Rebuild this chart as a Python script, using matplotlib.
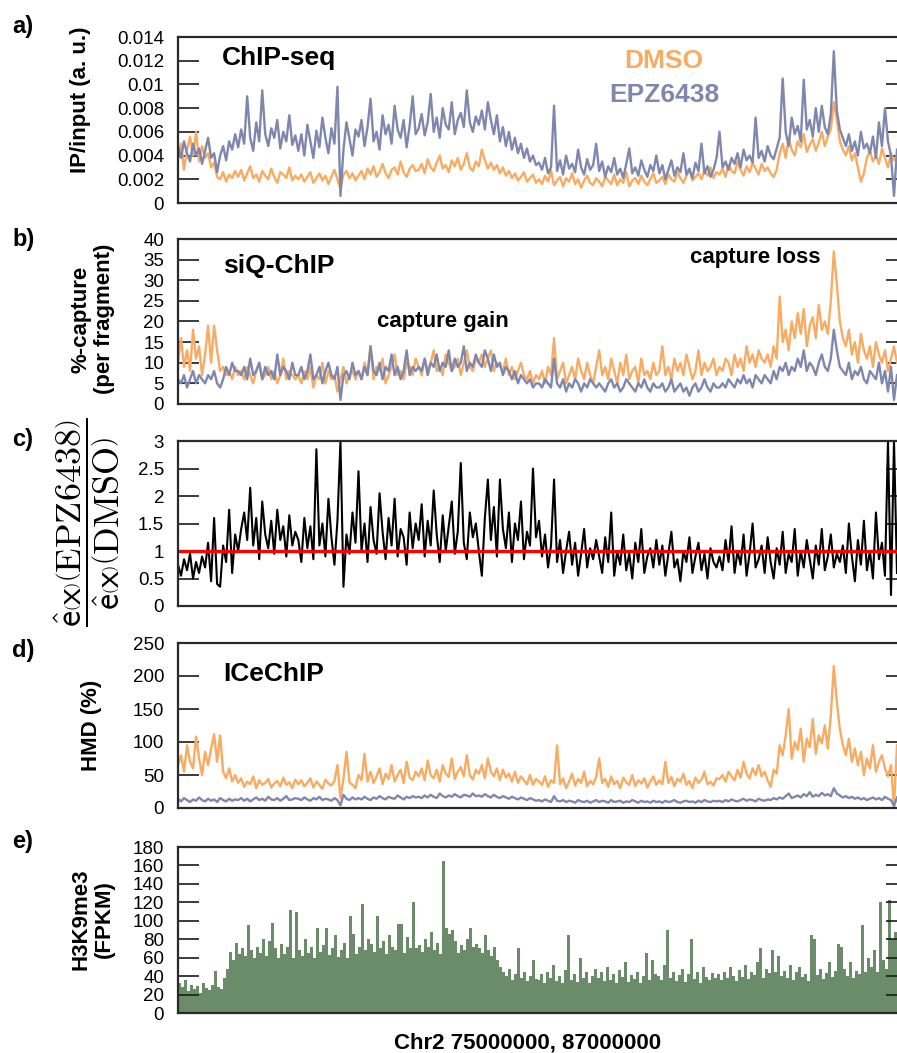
import numpy as np
import matplotlib
matplotlib.use("Agg")
import matplotlib.pyplot as plt

plt.rcParams['font.family'] = ['Liberation Sans', 'DejaVu Sans']
plt.rcParams['mathtext.fontset'] = 'cm'

# ---------------- data ----------------
# a) ChIP-seq IP/input, values in units of 1e-4
chip_dmso = [38, 50, 28, 45, 56, 40, 60, 35, 48, 38, 42, 30, 34, 22, 20, 26, 18, 24, 21, 27,
             22, 28, 19, 25, 31, 21, 24, 18, 27, 23, 20, 29, 22, 17, 26, 24, 21, 30, 19, 23,
             20, 24, 18, 22, 26, 17, 21, 25, 19, 23, 16, 22, 28, 20, 12, 24, 27, 21, 25, 19,
             23, 27, 20, 29, 24, 31, 22, 26, 33, 25, 21, 28, 30, 24, 35, 26, 22, 29, 32, 27,
             28, 33, 25, 37, 30, 27, 34, 40, 29, 32, 26, 36, 31, 38, 28, 33, 42, 30, 27, 35,
             31, 45, 36, 29, 34, 28, 32, 25, 30, 23, 27, 21, 25, 19, 22, 26, 18, 21, 24, 17,
             20, 16, 23, 18, 27, 15, 19, 22, 14, 21, 18, 25, 16, 20, 13, 19, 23, 17, 15, 21,
             18, 14, 22, 19, 16, 24, 15, 20, 17, 26, 14, 19, 21, 16, 23, 18, 15, 20, 25, 17,
             19, 22, 16, 24, 20, 18, 26, 21, 17, 23, 28, 19, 22, 25, 20, 27, 23, 30, 21, 26,
             24, 29, 22, 32, 27, 25, 35, 28, 23, 31, 26, 34, 29, 24, 33, 27, 30, 25, 22, 28,
             42, 50, 38, 55, 45, 40, 52, 47, 58, 43, 49, 54, 44, 51, 60, 48, 56, 62, 85, 70,
             52, 45, 40, 48, 36, 42, 30, 18, 25, 38, 44, 35, 40, 33, 46, 38, 30, 42, 36, 40]
chip_epz = [48, 38, 52, 42, 35, 50, 40, 46, 33, 44, 55, 38, 42, 26, 40, 48, 36, 52, 45, 58,
            47, 62, 50, 90, 55, 44, 68, 52, 95, 58, 48, 63, 55, 70, 46, 60, 52, 74, 49, 57,
            44, 58, 40, 66, 52, 38, 61, 47, 72, 55, 42, 63, 50, 98, 6, 45, 68, 54, 40, 62,
            56, 70, 48, 64, 88, 52, 60, 45, 74, 58, 66, 50, 82, 62, 55, 70, 47, 65, 90, 58,
            63, 75, 57, 68, 92, 60, 72, 55, 80, 66, 62, 85, 58, 70, 76, 64, 95, 68, 60, 73,
            66, 78, 62, 85, 70, 58, 74, 52, 64, 48, 60, 45, 55, 42, 50, 38, 46, 35, 40, 32,
            34, 28, 38, 25, 30, 82, 27, 36, 24, 40, 29, 33, 26, 45, 30, 24, 37, 28, 32, 50,
            27, 35, 22, 31, 26, 38, 24, 29, 21, 33, 46, 25, 30, 23, 36, 28, 22, 32, 27, 40,
            25, 32, 20, 28, 36, 23, 30, 26, 42, 24, 29, 21, 34, 27, 50, 25, 31, 22, 28, 38,
            60, 30, 35, 28, 38, 33, 42, 30, 45, 36, 40, 34, 72, 38, 44, 35, 48, 40, 37, 46,
            55, 105, 60, 48, 72, 58, 65, 52, 104, 62, 70, 56, 80, 60, 82, 64, 58, 75, 128, 78,
            62, 55, 48, 58, 44, 52, 40, 60, 46, 50, 42, 56, 38, 68, 48, 80, 52, 40, 6, 45]

# b) siQ-ChIP %-capture
siq_dmso = [10, 16, 9, 13, 8, 18, 11, 14, 7, 12, 19, 10, 19, 13, 8, 9, 7, 8, 6, 9,
            7, 8, 6, 9, 7, 5, 8, 10, 6, 7, 9, 6, 8, 5, 7, 11, 6, 8, 7, 6,
            7, 5, 8, 6, 9, 4, 7, 6, 10, 5, 8, 6, 7, 3, 6, 9, 5, 7, 8, 6,
            8, 6, 10, 7, 14, 6, 9, 8, 11, 5, 7, 9, 12, 7, 8, 6, 10, 9, 7, 11,
            9, 7, 11, 8, 10, 13, 8, 9, 7, 12, 10, 8, 9, 11, 7, 10, 13, 9, 8, 11,
            10, 12, 9, 11, 13, 8, 10, 9, 8, 11, 7, 9, 6, 8, 10, 7, 6, 8, 5, 7,
            6, 8, 5, 9, 7, 16, 6, 8, 10, 5, 7, 9, 6, 11, 8, 6, 10, 7, 5, 9,
            13, 7, 9, 6, 11, 8, 5, 10, 7, 12, 6, 8, 9, 5, 11, 7, 8, 6, 10, 7,
            8, 14, 7, 9, 6, 11, 8, 10, 7, 12, 9, 6, 8, 13, 7, 10, 8, 9, 11, 7,
            9, 8, 11, 10, 7, 12, 9, 11, 8, 14, 10, 12, 9, 13, 11, 10, 12, 9, 14, 11,
            26, 15, 18, 13, 20, 16, 22, 17, 23, 14, 19, 21, 16, 24, 18, 20, 17, 25, 37, 29,
            20, 16, 14, 18, 12, 15, 10, 17, 13, 11, 14, 9, 15, 12, 10, 13, 8, 11, 14, 10]
siq_epz = [6, 5, 7, 4, 6, 8, 5, 7, 6, 5, 7, 6, 8, 5, 4, 6, 9, 7, 10, 8,
           8, 7, 9, 6, 11, 7, 8, 10, 6, 9, 7, 8, 6, 12, 7, 9, 8, 6, 10, 7,
           7, 9, 6, 8, 12, 6, 7, 9, 5, 8, 10, 7, 6, 9, 1, 7, 8, 6, 10, 7,
           8, 6, 9, 7, 14, 8, 7, 10, 6, 9, 8, 12, 7, 9, 6, 8, 13, 7, 9, 8,
           9, 8, 11, 7, 10, 9, 12, 8, 10, 9, 13, 8, 11, 9, 10, 14, 8, 10, 9, 12,
           10, 9, 13, 11, 8, 12, 9, 10, 7, 9, 8, 6, 8, 5, 7, 6, 5, 6, 4, 5,
           5, 4, 6, 5, 4, 11, 5, 4, 6, 3, 5, 4, 6, 5, 3, 5, 4, 6, 5, 4,
           5, 4, 3, 5, 6, 4, 5, 3, 4, 6, 5, 4, 3, 5, 4, 6, 4, 3, 5, 4,
           4, 5, 3, 4, 6, 3, 4, 5, 3, 4, 2, 4, 5, 3, 4, 6, 4, 3, 5, 4,
           4, 5, 4, 6, 5, 4, 6, 5, 7, 5, 6, 4, 7, 6, 5, 7, 6, 5, 8, 6,
           9, 8, 10, 7, 9, 8, 11, 9, 13, 8, 10, 9, 7, 10, 12, 9, 8, 11, 18, 13,
           9, 8, 7, 10, 6, 8, 7, 9, 6, 5, 8, 7, 6, 10, 5, 8, 3, 9, 1, 7]

# c) ratio e(x)(EPZ6438) / e(x)(DMSO)
ratio = [0.75, 0.55, 0.85, 0.65, 0.95, 0.5, 0.8, 0.6, 0.9, 0.7, 1.15, 0.45, 1.6, 0.4, 0.35, 1.1, 0.8, 1.75, 0.6, 1.3,
         1.0, 1.4, 1.7, 1.2, 2.15, 1.1, 1.6, 0.85, 1.9, 1.3, 1.05, 1.55, 0.95, 1.75, 1.2, 1.45, 0.9, 1.65, 1.1, 1.35,
         1.2, 0.8, 1.6, 1.05, 1.45, 0.85, 2.85, 1.1, 1.5, 0.9, 1.95, 1.25, 0.75, 1.55, 3.0, 0.35, 1.3, 0.95, 1.7, 1.15,
         2.45, 1.0, 1.5, 0.8, 1.8, 1.2, 0.95, 2.05, 1.35, 0.85, 1.6, 1.1, 1.95, 0.9, 1.4, 1.25, 0.75, 1.7, 1.05, 1.5,
         1.2, 1.85, 0.9, 1.55, 1.1, 2.1, 1.3, 0.8, 1.65, 1.0, 1.45, 1.9, 0.95, 1.35, 2.6, 1.15, 0.85, 1.7, 1.25, 1.5,
         1.0, 0.55, 1.6, 2.3, 1.2, 1.8, 0.9, 2.3, 1.4, 1.05, 1.7, 0.8, 1.5, 1.2, 1.9, 0.85, 1.35, 1.1, 2.5, 1.25,
         1.55, 0.9, 1.3, 0.7, 1.1, 2.3, 0.8, 1.2, 0.6, 1.0, 1.35, 0.75, 1.15, 0.55, 0.95, 1.4, 0.7, 1.05, 0.85, 1.2,
         0.9, 0.6, 1.25, 0.8, 1.7, 0.55, 1.0, 0.75, 1.3, 0.65, 0.95, 0.5, 1.15, 0.8, 1.4, 0.6, 0.9, 1.05, 0.7, 1.2,
         0.75, 1.1, 0.55, 0.95, 1.35, 0.7, 0.85, 0.45, 1.0, 0.8, 1.25, 0.6, 0.9, 1.15, 0.65, 0.95, 0.5, 1.05, 0.8, 0.7,
         0.9, 0.65, 1.2, 0.8, 1.45, 0.6, 1.0, 0.75, 1.3, 0.55, 0.95, 1.5, 0.7, 0.85, 1.1, 0.6, 1.25, 0.8, 0.5, 1.05,
         0.75, 1.35, 0.6, 0.95, 0.8, 1.4, 0.55, 1.0, 0.7, 1.2, 0.85, 0.5, 1.1, 0.75, 1.4, 0.65, 0.9, 1.3, 0.7, 0.95,
         0.8, 1.1, 0.6, 1.5, 0.9, 0.45, 1.2, 0.75, 1.55, 0.65, 1.0, 0.5, 1.7, 0.85, 1.15, 0.55, 3.0, 0.2, 3.0, 0.6]

# d) ICeChIP HMD (%)
hmd_dmso = [65, 80, 55, 95, 70, 60, 108, 75, 50, 85, 65, 90, 112, 70, 110, 55, 45, 60, 40, 50,
            38, 45, 32, 40, 36, 48, 30, 42, 35, 38, 44, 31, 37, 41, 33, 46, 35, 39, 30, 43,
            36, 42, 33, 38, 45, 31, 40, 35, 29, 43, 37, 34, 41, 65, 15, 44, 85, 39, 35, 30,
            50, 42, 82, 40, 55, 38, 48, 60, 36, 52, 44, 65, 40, 50, 58, 38, 70, 46, 42, 55,
            48, 60, 42, 72, 50, 45, 58, 40, 65, 52, 47, 75, 44, 55, 62, 48, 80, 50, 43, 58,
            52, 65, 45, 75, 55, 48, 60, 42, 58, 46, 52, 40, 55, 38, 48, 42, 36, 50, 35, 44,
            40, 35, 48, 32, 42, 38, 95, 36, 45, 30, 40, 52, 34, 44, 38, 55, 33, 41, 36, 47,
            75, 38, 44, 32, 48, 36, 41, 30, 46, 39, 35, 50, 33, 42, 37, 45, 31, 40, 48, 35,
            42, 36, 70, 38, 47, 33, 44, 40, 52, 35, 41, 30, 46, 38, 43, 55, 36, 40, 34, 45,
            44, 50, 40, 55, 48, 42, 58, 46, 70, 52, 45, 60, 50, 65, 48, 55, 42, 32, 58, 52,
            95, 80, 110, 150, 75, 100, 88, 120, 70, 105, 92, 135, 82, 110, 98, 125, 90, 140, 215, 160,
            120, 95, 80, 105, 70, 90, 65, 85, 50, 75, 60, 95, 55, 70, 80, 60, 48, 65, 2, 95]
hmd_epz = [14, 10, 15, 12, 9, 13, 11, 16, 12, 10, 14, 11, 13, 9, 15, 12, 10, 14, 11, 13,
           12, 15, 11, 14, 10, 13, 16, 12, 14, 11, 17, 13, 12, 15, 11, 14, 18, 12, 13, 15,
           14, 12, 16, 13, 11, 15, 13, 17, 12, 14, 13, 11, 15, 12, 4, 20, 14, 12, 16, 13,
           15, 13, 17, 14, 12, 16, 14, 18, 15, 13, 17, 15, 14, 19, 16, 13, 17, 15, 18, 16,
           17, 15, 19, 16, 20, 17, 15, 22, 18, 16, 19, 17, 21, 18, 16, 20, 19, 17, 22, 18,
           19, 17, 21, 18, 16, 20, 17, 15, 18, 16, 14, 17, 15, 13, 16, 14, 12, 15, 13, 11,
           12, 10, 13, 11, 9, 18, 11, 10, 12, 9, 11, 10, 8, 12, 10, 9, 11, 8, 10, 12,
           9, 11, 10, 8, 12, 9, 10, 11, 8, 10, 9, 12, 10, 8, 11, 9, 10, 8, 11, 9,
           10, 8, 11, 9, 10, 12, 9, 8, 10, 11, 9, 10, 8, 11, 9, 12, 10, 9, 11, 10,
           11, 9, 12, 10, 13, 11, 10, 12, 14, 11, 13, 12, 10, 14, 12, 11, 13, 12, 15, 13,
           16, 14, 18, 22, 15, 17, 19, 16, 21, 18, 24, 17, 20, 18, 23, 19, 21, 18, 30, 22,
           19, 16, 18, 15, 17, 14, 16, 13, 15, 12, 14, 16, 13, 15, 12, 17, 14, 12, 3, 16]

# e) H3K9me3 (FPKM)
h3k9 = [33, 28, 36, 24, 30, 26, 29, 22, 32, 27, 25, 30, 46, 28, 26, 38, 48, 66, 58, 76,
        64, 70, 62, 95, 68, 60, 72, 65, 80, 62, 78, 98, 70, 60, 75, 64, 72, 112, 60, 110,
        68, 62, 80, 65, 72, 60, 92, 66, 74, 92, 63, 70, 85, 61, 68, 76, 60, 105, 86, 64,
        72, 118, 68, 80, 75, 66, 105, 70, 78, 64, 85, 72, 68, 96, 97, 65, 82, 70, 120, 70,
        74, 66, 80, 72, 88, 68, 76, 64, 165, 92, 86, 90, 78, 65, 74, 68, 80, 92, 72, 75,
        70, 65, 85, 68, 62, 72, 58, 50, 45, 40, 48, 36, 42, 70, 38, 44, 35, 40, 58, 37,
        36, 42, 33, 45, 38, 52, 35, 40, 32, 47, 85, 36, 42, 34, 60, 38, 45, 33, 40, 48,
        38, 44, 35, 50, 36, 42, 33, 47, 39, 55, 34, 41, 37, 45, 32, 40, 65, 36, 58, 42,
        40, 36, 52, 90, 38, 44, 35, 41, 48, 34, 42, 80, 37, 45, 33, 50, 39, 36, 43, 38,
        42, 36, 45, 38, 50, 40, 35, 47, 39, 52, 37, 44, 41, 55, 70, 38, 48, 43, 68, 45,
        62, 40, 46, 38, 52, 36, 44, 50, 39, 42, 35, 85, 80, 41, 48, 37, 43, 55, 39, 46,
        75, 72, 48, 40, 55, 38, 46, 42, 95, 44, 60, 50, 68, 45, 120, 58, 48, 122, 80, 88]

a_ticks = [0, 0.002, 0.004, 0.006, 0.008, 0.01, 0.012, 0.014]
a_ticklabels = ['0', '0.002', '0.004', '0.006', '0.008', '0.01', '0.012', '0.014']
b_ticks = [0, 5, 10, 15, 20, 25, 30, 35, 40]
c_ticks = [0, 0.5, 1, 1.5, 2, 2.5, 3]
c_ticklabels = ['0', '0.5', '1', '1.5', '2', '2.5', '3']
d_ticks = [0, 50, 100, 150, 200, 250]
e_ticks = [0, 20, 40, 60, 80, 100, 120, 140, 160, 180]

# ---------------- styling ----------------
ORANGE = '#f9ab62'
BLUE = '#7f87ae'
GREEN = '#6a8c68'
W, H = 897, 1053
fig = plt.figure(figsize=(W / 100, H / 100), dpi=100)

L_PX, R_PX = 178, 907        # right spine lies just outside the cropped picture
VIS_R = 897
frac_vis = (VIS_R - L_PX) / (R_PX - L_PX)
LW = 1.7


def make_ax(top_px, bot_px):
    ax = fig.add_axes([L_PX / W, 1 - bot_px / H, (R_PX - L_PX) / W, (bot_px - top_px) / H])
    for s in ['top', 'bottom', 'left', 'right']:
        ax.spines[s].set_linewidth(1.6)
        ax.spines[s].set_color('#2a2a2a')
    ax.tick_params(axis='y', direction='in', length=15, width=1.2, left=True, right=True,
                   labelsize=13.5, pad=10, color='#1a1a1a')
    ax.tick_params(axis='x', bottom=False, labelbottom=False)
    return ax


N = len(chip_dmso)
x = np.arange(N)
xmax_line = (N - 1) / frac_vis

# a)
ax = make_ax(37, 203)
ax.plot(x, np.array(chip_dmso) * 1e-4, color=ORANGE, lw=LW)
ax.plot(x, np.array(chip_epz) * 1e-4, color=BLUE, lw=LW)
ax.set_xlim(0, xmax_line)
ax.set_ylim(0, 0.014)
ax.set_yticks(a_ticks)
ax.set_yticklabels(a_ticklabels)
ax.text(0.061 * frac_vis, 0.831, 'ChIP-seq', transform=ax.transAxes, fontsize=19,
        fontweight='bold', va='baseline', ha='left')
ax.text(0.676 * frac_vis, 0.813, 'DMSO', transform=ax.transAxes, fontsize=19,
        fontweight='bold', va='baseline', ha='center', color=ORANGE)
ax.text(0.676 * frac_vis, 0.608, 'EPZ6438', transform=ax.transAxes, fontsize=19,
        fontweight='bold', va='baseline', ha='center', color=BLUE)

# b)
ax = make_ax(239, 404)
ax.plot(x, siq_dmso, color=ORANGE, lw=LW)
ax.plot(x, siq_epz, color=BLUE, lw=LW)
ax.set_xlim(0, xmax_line)
ax.set_ylim(0, 40)
ax.set_yticks(b_ticks)
ax.text(0.0626 * frac_vis, 0.794, 'siQ-ChIP', transform=ax.transAxes, fontsize=19,
        fontweight='bold', va='baseline', ha='left')
ax.text(0.277 * frac_vis, 0.467, 'capture gain', transform=ax.transAxes, fontsize=16,
        fontweight='bold', va='baseline', ha='left')
ax.text(0.712 * frac_vis, 0.855, 'capture loss', transform=ax.transAxes, fontsize=16,
        fontweight='bold', va='baseline', ha='left')

# c)
ax = make_ax(441, 606)
ax.plot(x, ratio, color='black', lw=1.5)
ax.axhline(1, color='#ff0000', lw=2.4)
ax.set_xlim(0, xmax_line)
ax.set_ylim(0, 3)
ax.set_yticks(c_ticks)
ax.set_yticklabels(c_ticklabels)

# d)
ax = make_ax(643, 808)
ax.plot(x, hmd_dmso, color=ORANGE, lw=LW)
ax.plot(x, hmd_epz, color=BLUE, lw=LW)
ax.set_xlim(0, xmax_line)
ax.set_ylim(0, 250)
ax.set_yticks(d_ticks)
ax.text(0.0626 * frac_vis, 0.77, 'ICeChIP', transform=ax.transAxes, fontsize=19,
        fontweight='bold', va='baseline', ha='left')

# e)
ax = make_ax(847, 1013)
ax.bar(x, h3k9, width=1.0, color=GREEN, linewidth=0)
ax.set_xlim(-0.5, -0.5 + N / frac_vis)
ax.set_ylim(0, 180)
ax.set_yticks(e_ticks)

# ---------------- labels ----------------
def ftext(px, py, s, **kw):
    fig.text(px / W, 1 - py / H, s, **kw)

ftext(80, 100, 'IP/input (a. u.)', rotation=90, fontsize=16, fontweight='bold',
      ha='center', va='center')
ftext(93, 319, '%-capture\n(per fragment)', rotation=90, fontsize=16, fontweight='bold',
      ha='center', va='center', multialignment='center', linespacing=1.15)
ftext(87, 522, r'$\dfrac{\hat{\mathsf{e}}\left(\mathsf{x}\right)\left(\mathrm{EPZ6438}\right)}'
               r'{\hat{\mathsf{e}}\left(\mathsf{x}\right)\left(\mathrm{DMSO}\right)}$',
      rotation=90, fontsize=26, ha='center', va='center')
ftext(91, 725, 'HMD (%)', rotation=90, fontsize=16, fontweight='bold',
      ha='center', va='center')
ftext(93, 919, 'H3K9me3\n(FPKM)', rotation=90, fontsize=16, fontweight='bold',
      ha='center', va='center', multialignment='center', linespacing=1.15)

for lab, yb in [('a)', 33), ('b)', 246), ('c)', 446), ('d)', 657), ('e)', 848)]:
    ftext(12, yb, lab, fontsize=17, fontweight='bold', ha='left', va='baseline')

ftext(528, 1049, 'Chr2 75000000, 87000000', fontsize=16, fontweight='bold',
      ha='center', va='baseline')

fig.savefig('out.png', dpi=100)
